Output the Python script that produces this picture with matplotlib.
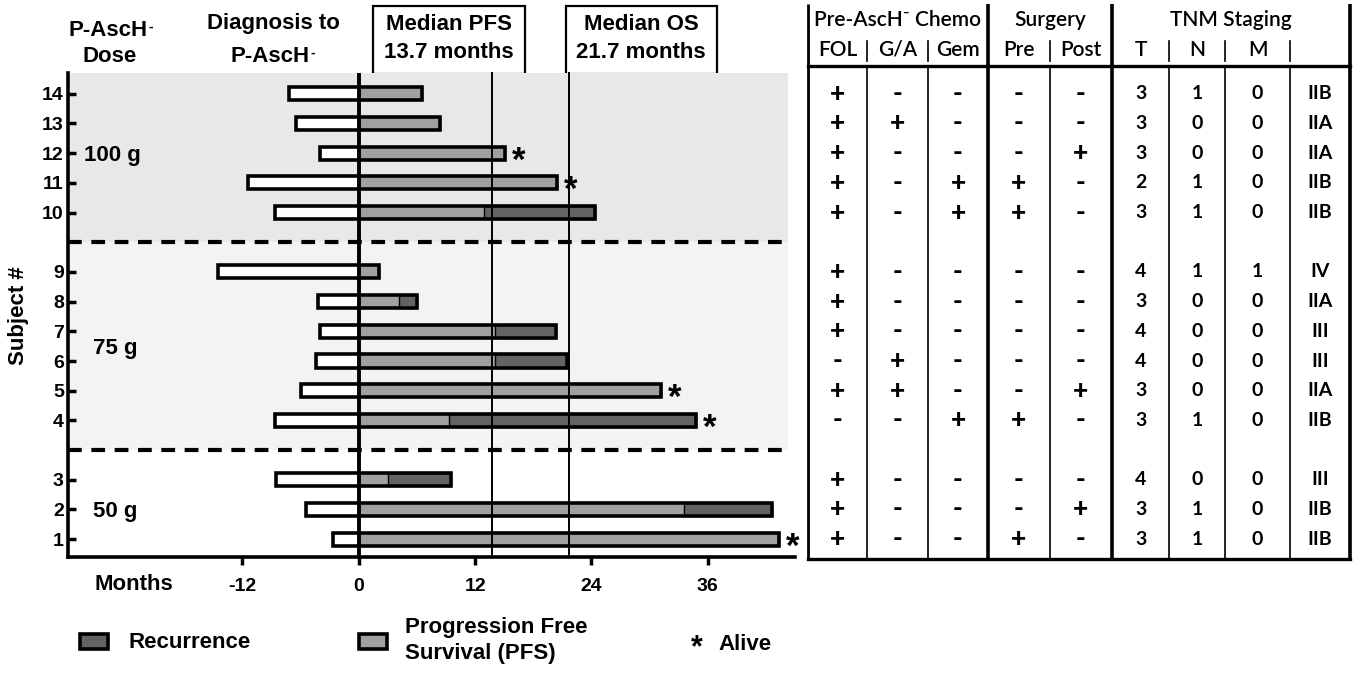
import matplotlib
matplotlib.use("Agg")
import matplotlib.pyplot as plt
from matplotlib.patches import Rectangle

# ---------------- data ----------------
subjects = [1, 2, 3, 4, 5, 6, 7, 8, 9, 10, 11, 12, 13, 14]
dose_g = [50, 50, 50, 75, 75, 75, 75, 75, 75, 100, 100, 100, 100, 100]
diag_to_asc = [2.7, 5.4, 8.5, 8.6, 6.0, 4.4, 4.0, 4.2, 14.5, 8.6, 11.4, 4.0, 6.5, 7.2]
pfs = [43.4, 33.5, 3.0, 9.3, 31.2, 14.1, 14.0, 4.1, 2.1, 12.9, 20.4, 15.1, 8.4, 6.5]
overall = [43.4, 42.6, 9.5, 34.8, 31.2, 21.5, 20.3, 6.0, 2.1, 24.4, 20.4, 15.1, 8.4, 6.5]
alive = [True, False, False, True, True, False, False, False, False, False, True, True, False, False]
median_pfs = 13.7
median_os = 21.7
x_ticks = [-12, 0, 12, 24, 36]

fol = ['+', '+', '+', '-', '+', '-', '+', '+', '+', '+', '+', '+', '+', '+']
ga = ['-', '-', '-', '-', '+', '+', '-', '-', '-', '-', '-', '-', '+', '-']
gem = ['-', '-', '-', '+', '-', '-', '-', '-', '-', '+', '+', '-', '-', '-']
surg_pre = ['+', '-', '-', '+', '-', '-', '-', '-', '-', '+', '+', '-', '-', '-']
surg_post = ['-', '+', '-', '-', '+', '-', '-', '-', '-', '-', '-', '+', '-', '-']
tnm_t = ['3', '3', '4', '3', '3', '4', '4', '3', '4', '3', '2', '3', '3', '3']
tnm_n = ['1', '1', '0', '1', '0', '0', '0', '0', '1', '1', '1', '0', '0', '1']
tnm_m = ['0', '0', '0', '0', '0', '0', '0', '0', '1', '0', '0', '0', '0', '0']
stage = ['IIB', 'IIB', 'III', 'IIB', 'IIA', 'III', 'III', 'IIA', 'IV', 'IIB', 'IIB', 'IIA', 'IIA', 'IIB']

table_group_headers = ['Pre-AscH\u207b Chemo', 'Surgery', 'TNM Staging']
table_col_headers = ['FOL', 'G/A', 'Gem', 'Pre', 'Post', 'T', 'N', 'M', '']

# ---------------- style ----------------
W, H = 1360, 673
LIGHT = '#a0a0a0'
DARK = '#636363'
BAND_100 = '#e8e8e8'
BAND_75 = '#f3f3f3'
SANS = ['Liberation Sans', 'DejaVu Sans']
TAB = ['Lato', 'DejaVu Sans']

plt.rcParams['font.family'] = SANS
plt.rcParams['font.weight'] = 'bold'

fig = plt.figure(figsize=(W / 100, H / 100), dpi=100)

# row positions: one blank row between dose groups
groups = sorted(set(dose_g))
ypos = [s + groups.index(d) for s, d in zip(subjects, dose_g)]

# ---------------- swimmer chart ----------------
ax_top_px, ax_bot_px = 73, 557
ax = fig.add_axes([68 / W, (H - ax_bot_px) / H, (795 - 68) / W, (ax_bot_px - ax_top_px) / H])
ylo, yhi = 0.4, 16.7
ax.set_xlim(-30, 45)
ax.set_ylim(ylo, yhi)

# dose-group background bands and separators
bounds = []
for gi, g in enumerate(groups):
    ys = [p for p, d in zip(ypos, dose_g) if d == g]
    bounds.append((min(ys), max(ys)))
sep_lo = (bounds[0][1] + bounds[1][0]) / 2
sep_hi = (bounds[1][1] + bounds[2][0]) / 2
ax.axhspan(sep_hi, yhi, xmin=0.003, xmax=0.99, color=BAND_100, lw=0, zorder=0)
ax.axhspan(sep_lo, sep_hi, xmin=0.003, xmax=0.99, color=BAND_75, lw=0, zorder=0)
for yy in (sep_lo, sep_hi):
    ax.axhline(yy, xmin=0, xmax=0.99, color='black', lw=3, ls=(0, (3.3, 2.3)), zorder=2)

bh = 0.44
ax.barh(ypos, diag_to_asc, left=[-d for d in diag_to_asc], height=bh,
        color='white', lw=0, zorder=3)
ax.barh(ypos, pfs, left=0, height=bh, color=LIGHT, lw=0, zorder=3)
rec_w = [o - p for o, p in zip(overall, pfs)]
ax.barh(ypos, rec_w, left=pfs, height=bh, color=DARK, edgecolor='black', lw=1.0, zorder=3)
ax.barh(ypos, [d + o for d, o in zip(diag_to_asc, overall)], left=[-d for d in diag_to_asc],
        height=bh, fill=False, edgecolor='black', lw=2.6, zorder=4)

# survival status
for y, o, a in zip(ypos, overall, alive):
    if a:
        ax.annotate('*', xy=(o, y), xytext=(5, -12.5), textcoords='offset points',
                    ha='left', va='baseline', fontsize=25, fontweight='bold', zorder=6)

ax.axvline(0, color='black', lw=2.8, zorder=5)
ax.axvline(median_pfs, color='black', lw=1.4, zorder=5, clip_on=False)
ax.axvline(median_os, color='black', lw=1.4, zorder=5, clip_on=False)

for sp in ('top', 'right'):
    ax.spines[sp].set_visible(False)
for sp in ('left', 'bottom'):
    ax.spines[sp].set_linewidth(2.6)

ax.set_yticks(ypos)
ax.set_yticklabels([str(s) for s in subjects])
ax.set_xticks(x_ticks)
ax.set_xticklabels([str(t) for t in x_ticks])
ax.tick_params(axis='y', direction='in', length=6, width=2.5, pad=3, labelsize=14)
ax.tick_params(axis='x', direction='out', length=6, width=2.5, pad=9, labelsize=14)
for lbl in ax.get_xticklabels() + ax.get_yticklabels():
    lbl.set_fontweight('bold')

for gi, g in enumerate(groups):
    lo, hi = bounds[gi]
    ax.text(-28.4 if gi == 2 else -27.4, (lo + hi) / 2, f'{g} g', ha='left',
            va='center_baseline', fontsize=16, fontweight='bold', zorder=6)

# ---------------- overlay (figure pixel space) ----------------
ov = fig.add_axes([0, 0, 1, 1], zorder=-1)
ov.set_xlim(0, W)
ov.set_ylim(H, 0)
ov.axis('off')


def asc_label(x, y):
    """'P-AscH' with a small raised minus sign."""
    t = ov.text(x - 3, y, 'P-AscH', ha='center', va='center', fontsize=16, fontweight='bold')
    ov.annotate('-', xy=(1, 1), xycoords=t, xytext=(1, -7), textcoords='offset points',
                ha='left', va='baseline', fontsize=10, fontweight='bold')


asc_label(111, 31)
ov.text(110, 57, 'Dose', ha='center', va='center', fontsize=16, fontweight='bold')
ov.text(273, 23, 'Diagnosis to', ha='center', va='center', fontsize=16, fontweight='bold')
asc_label(273, 57)
ov.text(19, 316, 'Subject #', ha='center', va='center', rotation=90, fontsize=16, fontweight='bold')
ov.text(134, 585, 'Months', ha='center', va='center', fontsize=16, fontweight='bold')

# median boxes
ov.add_patch(Rectangle((373, 6), 152, 68, fill=False, edgecolor='black', lw=1.6))
ov.add_patch(Rectangle((566, 6), 151, 68, fill=False, edgecolor='black', lw=1.6))
ov.text(449, 25, 'Median PFS', ha='center', va='center', fontsize=16, fontweight='bold')
ov.text(449, 53, f'{median_pfs} months', ha='center', va='center', fontsize=16, fontweight='bold')
ov.text(641, 25, 'Median OS', ha='center', va='center', fontsize=16, fontweight='bold')
ov.text(641, 53, f'{median_os} months', ha='center', va='center', fontsize=16, fontweight='bold')

# legend
ov.add_patch(Rectangle((80, 634), 28, 15, facecolor=DARK, edgecolor='black', lw=2.6))
ov.text(128, 642, 'Recurrence', ha='left', va='center', fontsize=16, fontweight='bold')
ov.add_patch(Rectangle((359, 634), 28, 15, facecolor=LIGHT, edgecolor='black', lw=2.6))
ov.text(405, 627, 'Progression Free', ha='left', va='center', fontsize=16, fontweight='bold')
ov.text(405, 654, 'Survival (PFS)', ha='left', va='center', fontsize=16, fontweight='bold')
ov.text(691, 656, '*', ha='left', va='baseline', fontsize=22, fontweight='bold')
ov.text(718, 645, 'Alive', ha='left', va='center', fontsize=16, fontweight='bold')

# ---------------- clinical table ----------------
tab_left, tab_right, tab_top = 808, 1350, 4
px_per_unit = (ax_bot_px - ax_top_px) / (yhi - ylo)
t_top = yhi + (ax_top_px - tab_top) / px_per_unit
tx = fig.add_axes([tab_left / W, (H - ax_bot_px) / H, (tab_right - tab_left) / W,
                   (ax_bot_px - tab_top) / H])
tx.set_xlim(0, tab_right - tab_left)
tx.set_ylim(ylo, t_top)
tx.axis('off')

edges = [0, 59, 120, 180, 242, 304, 361, 417, 482, 542]
centers = [(a + b) / 2 for a, b in zip(edges[:-1], edges[1:])]


def py(px):
    return yhi + (ax_top_px - px) / px_per_unit


y_bottom = py(559)
y_hdr_line = py(66)
thick = {0: 2.0, 3: 2.6, 5: 2.6, 9: 2.6}
for i, e in enumerate(edges):
    if i in thick:
        tx.plot([e, e], [y_bottom, t_top], color='black', lw=thick[i], clip_on=False,
                solid_capstyle='butt')
    else:
        tx.plot([e, e], [y_bottom, y_hdr_line], color='black', lw=1.2, clip_on=False)
        tx.plot([e, e], [py(61), py(41)], color='black', lw=1.2, clip_on=False)
tx.plot([0, edges[-1]], [y_hdr_line, y_hdr_line], color='black', lw=2.4, clip_on=False)
tx.plot([0, edges[-1]], [y_bottom, y_bottom], color='black', lw=2.4, clip_on=False)

group_spans = [(0, 3), (3, 5), (5, 9)]
for name, (a, b) in zip(table_group_headers, group_spans):
    tx.text((edges[a] + edges[b]) / 2, py(20), name, ha='center', va='center',
            fontsize=15, family=TAB, fontweight='semibold')
for c, name in zip(centers, table_col_headers):
    tx.text(c, py(50), name, ha='center', va='center', fontsize=15, family=TAB,
            fontweight='semibold')

columns = [fol, ga, gem, surg_pre, surg_post, tnm_t, tnm_n, tnm_m, stage]
for ci, col in enumerate(columns):
    for y, v in zip(ypos, col):
        if v in '+-':
            tx.text(centers[ci], y, v, ha='center', va='center', fontsize=19, family=TAB,
                    fontweight='black')
        else:
            tx.text(centers[ci], y, v, ha='center', va='center', fontsize=14, family=TAB,
                    fontweight='bold')

fig.savefig('out.png', dpi=100)
